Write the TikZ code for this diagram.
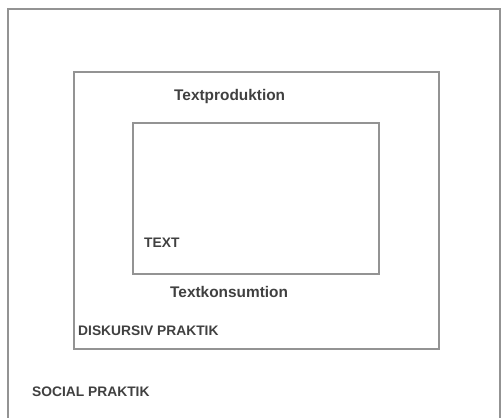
\documentclass[tikz,border=0pt]{standalone}
\usepackage{fontspec}
\setsansfont{Liberation Sans}
\usetikzlibrary{positioning}
\tikzset{Box/.style={rectangle,draw=gray!85,line width=1.3pt,inner sep=0pt},
  Lbl/.style={font=\sffamily\bfseries\fontsize{15.4}{18}\selectfont,text=black!75,inner sep=0pt,anchor=west},
  Cap/.style={Lbl,font=\sffamily\bfseries\fontsize{13.8}{16}\selectfont}}

\begin{document}
\begin{tikzpicture}[x=1pt,y=-1pt]
    \useasboundingbox (0,0) rectangle (504,418);
    \clip (0,0) rectangle (504,418);
    \node[Box,minimum width=492pt,minimum height=421pt] (social) at (254,219.5) {};
    \node[Box,minimum width=365pt,minimum height=277pt] (diskursiv) at (256.5,210.5) {};
    \node[Box,minimum width=246pt,minimum height=151pt] (text) at (256,198.5) {};
    \node[Lbl] (prod) at (174,97) {Textproduktion};
    \node[Lbl] (kons) at (170,292) {Textkonsumtion};
    \node[Cap] (textlbl) at (144,243) {TEXT};
    \node[Cap] (disklbl) at (78,331) {DISKURSIV PRAKTIK};
    \node[Cap] (soclbl) at (32,392) {SOCIAL PRAKTIK};
  \end{tikzpicture}
\end{document}
